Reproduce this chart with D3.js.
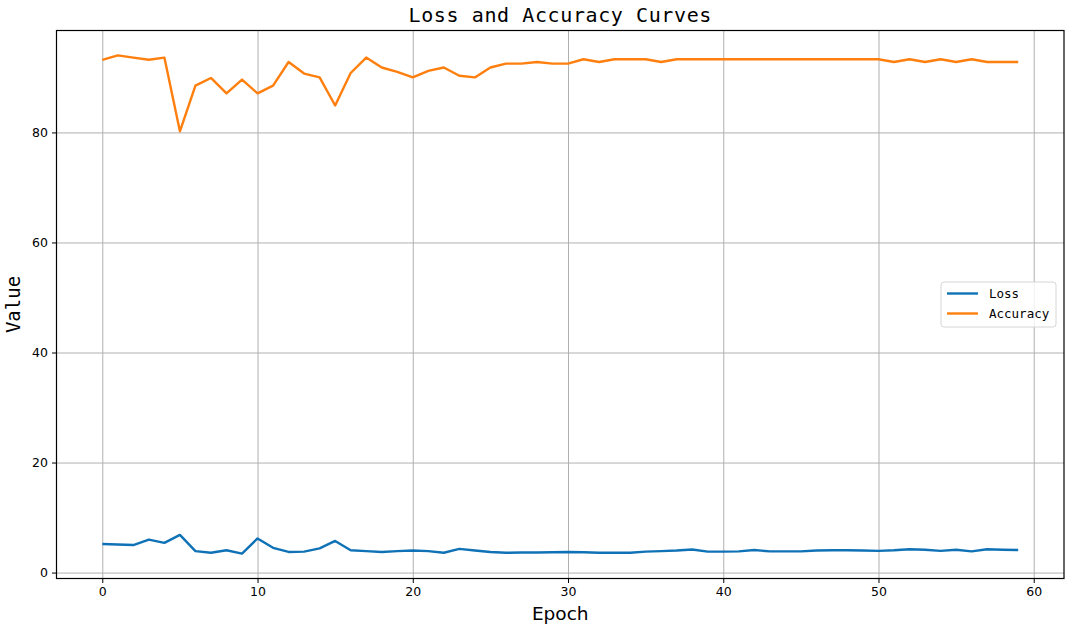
<html>
<head>
<meta charset="utf-8">
<script src="https://d3js.org/d3.v7.min.js"></script>
<style>
    body {margin: 0; background: white;}
    .tick text {font-family: "DejaVu Sans", sans-serif; font-size: 12.5px; fill: black;}
    .grid line {stroke: #b0b0b0; stroke-width: 1;}
    .grid path {display: none;}
</style>
</head>
<body>
<svg width=1072 height=631></svg>

<script>
// values
const epochs = d3.range(0, 60);

const lossValues = [
    5.2, 5.1, 5.0, 6.0, 5.4, 6.85, 3.9, 3.6, 4.05, 3.45,
    6.2, 4.5, 3.75, 3.8, 4.4, 5.75, 4.05, 3.9, 3.75, 3.9,
    4.0, 3.9, 3.6, 4.3, 4.0, 3.75, 3.6, 3.65, 3.65, 3.7,
    3.75, 3.7, 3.6, 3.6, 3.6, 3.8, 3.9, 4.0, 4.2, 3.8,
    3.8, 3.85, 4.1, 3.85, 3.85, 3.85, 4.0, 4.05, 4.05, 4.0,
    3.95, 4.05, 4.25, 4.15, 3.95, 4.15, 3.85, 4.25, 4.15, 4.1
];

const accuracyValues = [
    93.2, 94.0, 93.6, 93.2, 93.6, 80.2, 88.5, 89.9, 87.1, 89.6,
    87.1, 88.5, 92.8, 90.7, 90.0, 84.9, 90.8, 93.6, 91.8, 91.0,
    90.0, 91.2, 91.8, 90.3, 90.0, 91.8, 92.5, 92.5, 92.8, 92.5,
    92.5, 93.3, 92.8, 93.3, 93.3, 93.3, 92.8, 93.3, 93.3, 93.3,
    93.3, 93.3, 93.3, 93.3, 93.3, 93.3, 93.3, 93.3, 93.3, 93.3,
    93.3, 92.8, 93.3, 92.8, 93.3, 92.8, 93.3, 92.8, 92.8, 92.8
];

const seriesNames = ["Loss", "Accuracy"];
const seriesColors = ["#1072b6", "#ff7f0e"];
const xTicks = [0, 10, 20, 30, 40, 50, 60];
const yTicks = [0, 20, 40, 60, 80];

const plotLeft = 56.5, plotRight = 1064, plotTop = 30.5, plotBottom = 578.5;

const svg = d3.select('svg');

// matplotlib style 5% margins
const xPad = (d3.max(epochs) - d3.min(epochs)) * 0.05;
const allY = lossValues.concat(accuracyValues);
const yPad = (d3.max(allY) - d3.min(allY)) * 0.05;

const xs = d3.scaleLinear().domain([d3.min(epochs) - xPad, d3.max(epochs) + xPad]).range([plotLeft, plotRight]);
const ys = d3.scaleLinear().domain([d3.min(allY) - yPad, d3.max(allY) + yPad]).range([plotBottom, plotTop]);

// grid
svg.append("g")
    .attr("class", "grid")
    .attr("transform", "translate(0," + plotBottom + ")")
    .call(d3.axisBottom(xs).tickValues(xTicks).tickSize(-(plotBottom - plotTop)).tickFormat(""));

svg.append("g")
    .attr("class", "grid")
    .attr("transform", "translate(" + plotLeft + ",0)")
    .call(d3.axisLeft(ys).tickValues(yTicks).tickSize(-(plotRight - plotLeft)).tickFormat(""));

// lines
const series = [lossValues, accuracyValues];
series.forEach(function(vals, k) {
    svg.append("path")
        .datum(vals)
        .attr("fill", "none")
        .attr("stroke", seriesColors[k])
        .attr("stroke-width", 2.4)
        .attr("stroke-linejoin", "round")
        .attr("d", d3.line().x(function(d, i) {return xs(epochs[i]);}).y(function(d) {return ys(d);}));
});

// axes
const xAxis = svg.append("g")
    .attr("transform", "translate(0," + plotBottom + ")")
    .call(d3.axisBottom(xs).tickValues(xTicks).tickSize(4.5).tickPadding(4).tickSizeOuter(0));
const yAxis = svg.append("g")
    .attr("transform", "translate(" + plotLeft + ",0)")
    .call(d3.axisLeft(ys).tickValues(yTicks).tickSize(4.5).tickPadding(4).tickSizeOuter(0));
xAxis.select(".domain").remove();
yAxis.select(".domain").remove();

// frame
svg.append("rect")
    .attr("x", plotLeft).attr("y", plotTop)
    .attr("width", plotRight - plotLeft).attr("height", plotBottom - plotTop)
    .attr("fill", "none").attr("stroke", "black").attr("stroke-width", 1.2);

// title and labels
svg.append("text")
    .attr("x", (plotLeft + plotRight) / 2).attr("y", 22)
    .style("text-anchor", "middle")
    .style("font-family", "DejaVu Sans Mono, monospace")
    .style("font-size", "20px")
    .style("letter-spacing", "0.6px")
    .text("Loss and Accuracy Curves");

svg.append("text")
    .attr("x", (plotLeft + plotRight) / 2).attr("y", 620)
    .style("text-anchor", "middle")
    .style("font-family", "DejaVu Sans, sans-serif")
    .style("font-size", "18.5px")
    .text("Epoch");

svg.append("text")
    .attr("transform", "translate(20," + ((plotTop + plotBottom) / 2) + ") rotate(-90)")
    .style("text-anchor", "middle")
    .style("font-family", "DejaVu Sans Mono, monospace")
    .style("font-size", "19px")
    .text("Value");

// legend
const legend = svg.append("g").attr("transform", "translate(941,282)");
legend.append("rect")
    .attr("width", 115).attr("height", 45).attr("rx", 3)
    .attr("fill", "white").attr("fill-opacity", 0.8)
    .attr("stroke", "#d6d6d6");
seriesNames.forEach(function(name, k) {
    const gy = 11.5 + k * 20;
    legend.append("line")
        .attr("x1", 6).attr("x2", 37).attr("y1", gy).attr("y2", gy)
        .attr("stroke", seriesColors[k]).attr("stroke-width", 2.4);
    legend.append("text")
        .attr("x", 48).attr("y", gy + 4.5)
        .style("font-family", "DejaVu Sans Mono, monospace")
        .style("font-size", "12.5px")
        .text(name);
});
</script>
</body>
</html>
